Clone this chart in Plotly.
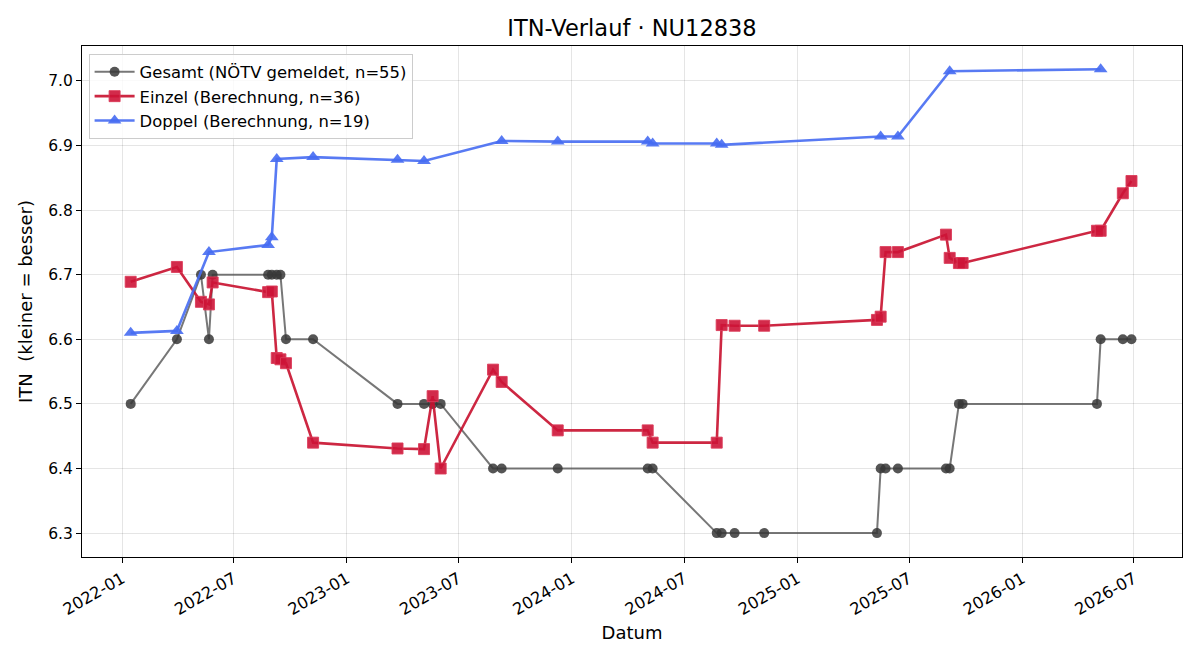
import plotly.graph_objects as go

# Gesamt (NÖTV gemeldet)
gesamt_dates = [
    "2022-01-15", "2022-03-31", "2022-05-09", "2022-05-22", "2022-05-28",
    "2022-08-26", "2022-09-01", "2022-09-09", "2022-09-15", "2022-09-24",
    "2022-11-07", "2023-03-24", "2023-05-06", "2023-05-20", "2023-06-02",
    "2023-08-26", "2023-09-09", "2023-12-09", "2024-05-03", "2024-05-11",
    "2024-08-23", "2024-08-31", "2024-09-21", "2024-11-08", "2025-05-10",
    "2025-05-16", "2025-05-24", "2025-06-13", "2025-08-30", "2025-09-05",
    "2025-09-20", "2025-09-26", "2026-05-02", "2026-05-08", "2026-06-13",
    "2026-06-27",
]
gesamt_vals = [
    6.5, 6.6, 6.7, 6.6, 6.7,
    6.7, 6.7, 6.7, 6.7, 6.6,
    6.6, 6.5, 6.5, 6.5, 6.5,
    6.4, 6.4, 6.4, 6.4, 6.4,
    6.3, 6.3, 6.3, 6.3, 6.3,
    6.4, 6.4, 6.4, 6.4, 6.4,
    6.5, 6.5, 6.5, 6.6, 6.6,
    6.6,
]

# Einzel (Berechnung)
einzel_dates = [
    "2022-01-15", "2022-03-31", "2022-05-09", "2022-05-22", "2022-05-28",
    "2022-08-26", "2022-09-01", "2022-09-09", "2022-09-15", "2022-09-24",
    "2022-11-07", "2023-03-24", "2023-05-06", "2023-05-20", "2023-06-02",
    "2023-08-26", "2023-09-09", "2023-12-09", "2024-05-03", "2024-05-11",
    "2024-08-23", "2024-08-31", "2024-09-21", "2024-11-08", "2025-05-10",
    "2025-05-16", "2025-05-24", "2025-06-13", "2025-08-30", "2025-09-05",
    "2025-09-20", "2025-09-26", "2026-05-02", "2026-05-08", "2026-06-13",
    "2026-06-27",
]
einzel_vals = [
    6.689, 6.712, 6.658, 6.654, 6.688,
    6.673, 6.674, 6.571, 6.569, 6.563,
    6.440, 6.431, 6.430, 6.512, 6.400,
    6.553, 6.534, 6.459, 6.459, 6.440,
    6.440, 6.622, 6.621, 6.621, 6.630,
    6.635, 6.735, 6.735, 6.762, 6.726,
    6.718, 6.718, 6.768, 6.768, 6.826,
    6.845,
]

# Doppel (Berechnung)
doppel_dates = [
    "2022-01-15", "2022-03-31", "2022-05-22", "2022-08-26", "2022-09-01",
    "2022-09-09", "2022-11-07", "2023-03-24", "2023-05-06", "2023-09-09",
    "2023-12-09", "2024-05-03", "2024-05-11", "2024-08-23", "2024-08-31",
    "2025-05-16", "2025-06-13", "2025-09-05", "2026-05-08",
]
doppel_vals = [
    6.610, 6.613, 6.735, 6.746, 6.758,
    6.879, 6.882, 6.878, 6.876, 6.907,
    6.906, 6.906, 6.903, 6.903, 6.901,
    6.914, 6.914, 7.015, 7.018,
]

fig = go.Figure()
fig.add_trace(go.Scatter(
    x=gesamt_dates, y=gesamt_vals, mode="lines+markers",
    name="Gesamt (NÖTV gemeldet, n=55)", legendgroup="g",
    line=dict(color="rgba(85,85,85,0.8)", width=2),
    marker=dict(symbol="circle", size=10, color="rgba(55,55,55,0.85)",
                line=dict(width=0)),
))
fig.add_trace(go.Scatter(
    x=einzel_dates, y=einzel_vals, mode="lines+markers",
    name="Einzel (Berechnung, n=36)", legendgroup="e",
    line=dict(color="rgba(200,16,46,0.9)", width=2.6),
    marker=dict(symbol="square", size=11, color="rgba(205,20,55,0.9)",
                line=dict(width=1, color="rgba(220,60,90,0.9)")),
))
fig.add_trace(go.Scatter(
    x=doppel_dates, y=doppel_vals, mode="lines+markers",
    name="Doppel (Berechnung, n=19)", legendgroup="d",
    line=dict(color="rgba(70,108,242,0.9)", width=2.6),
    marker=dict(symbol="triangle-up", size=12, color="rgba(70,108,242,0.9)",
                line=dict(width=0)),
))

fig.update_layout(
    width=1200, height=660,
    paper_bgcolor="white", plot_bgcolor="white",
    margin=dict(l=82, r=18, t=46, b=103),
    font=dict(family="DejaVu Sans", size=15.5, color="black"),
    title=dict(text="ITN-Verlauf · NU12838", x=0.5, xref="paper",
               xanchor="center", y=0.958, yanchor="middle",
               font=dict(size=22.5)),
    legend=dict(x=0.006, y=0.985, xanchor="left", yanchor="top",
                bgcolor="rgba(255,255,255,0.8)", bordercolor="#cccccc",
                borderwidth=1, font=dict(size=16.4), tracegroupgap=0,
                itemwidth=40),
    showlegend=True,
)
fig.update_xaxes(
    type="date", range=["2021-10-28", "2026-09-17"],
    tick0="2022-01-01", dtick="M6", tickformat="%Y-%m", tickangle=-30,
    tickfont=dict(size=16.3),
    ticks="outside", ticklen=5, tickcolor="black",
    showline=True, linecolor="black", linewidth=1, mirror=True,
    showgrid=True, gridcolor="rgba(0,0,0,0.1)", gridwidth=1,
    title=dict(text="Datum", font=dict(size=18), standoff=8),
    zeroline=False,
)
fig.update_yaxes(
    range=[6.263, 7.054], tick0=6.3, dtick=0.1, tickformat=".1f",
    ticks="outside", ticklen=5, tickcolor="black",
    showline=True, linecolor="black", linewidth=1, mirror=True,
    showgrid=True, gridcolor="rgba(0,0,0,0.1)", gridwidth=1,
    title=dict(text="ITN  (kleiner = besser)", font=dict(size=18), standoff=10),
    zeroline=False,
)

fig.write_html("out.html")
